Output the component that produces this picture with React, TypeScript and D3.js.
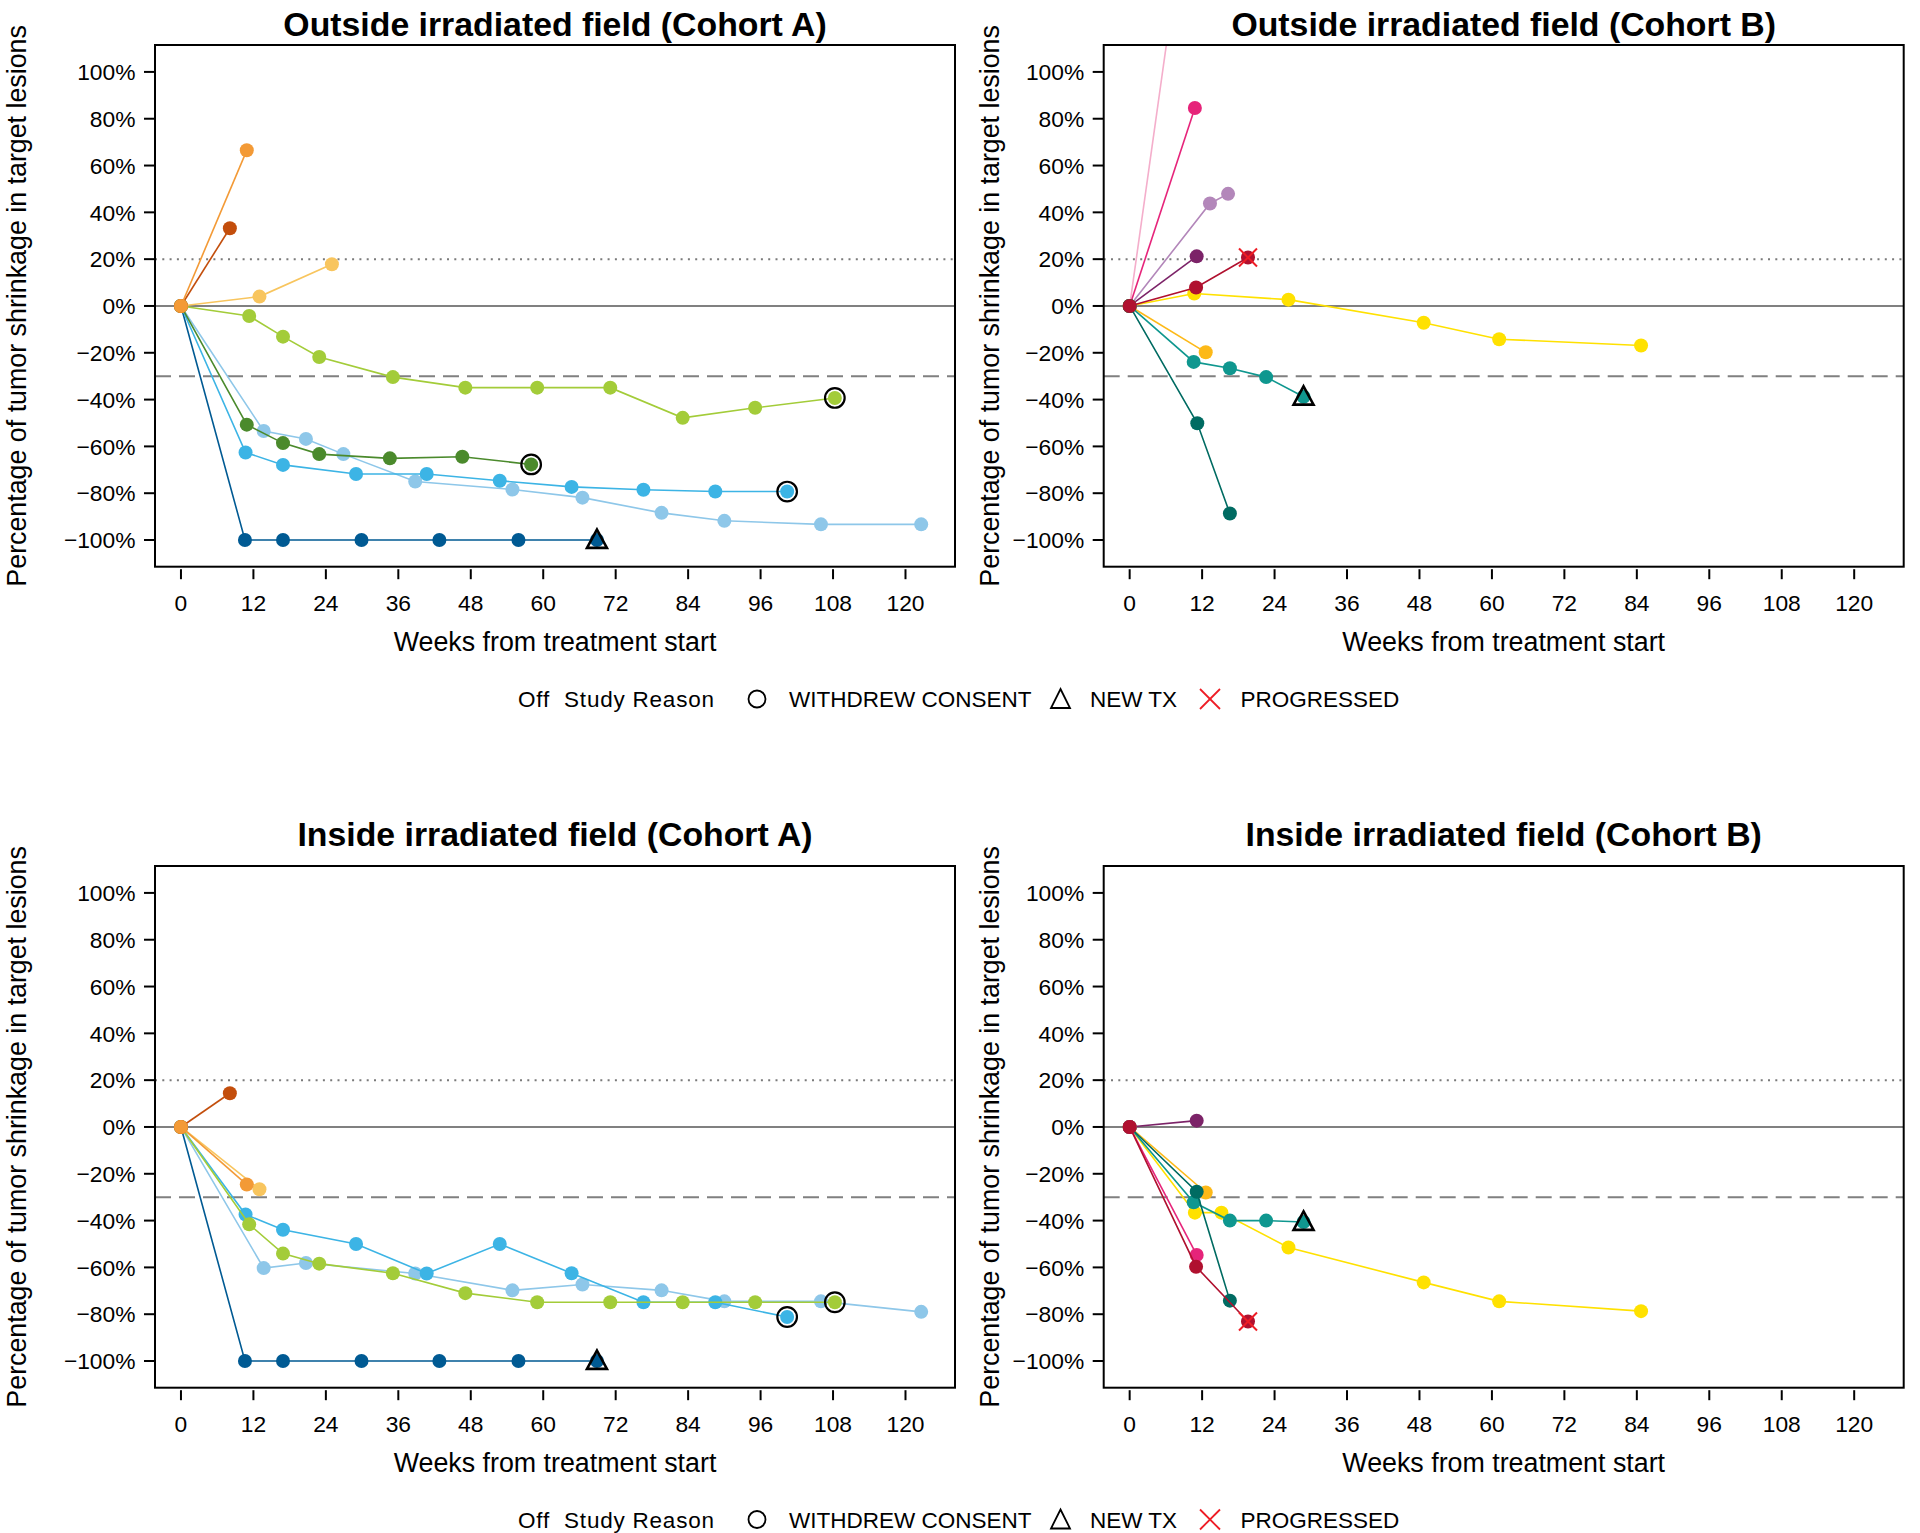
import React from 'react';
import * as d3 from 'd3';

// ---------- data ----------
const weekTicks = [0, 12, 24, 36, 48, 60, 72, 84, 96, 108, 120];
const pctTicks = [100, 80, 60, 40, 20, 0, -20, -40, -60, -80, -100];
const refProgression = 20;
const refResponse = -30;

const panelTitles = [
  'Outside irradiated field (Cohort A)',
  'Outside irradiated field (Cohort B)',
  'Inside irradiated field (Cohort A)',
  'Inside irradiated field (Cohort B)',
];
const xAxisTitle = 'Weeks from treatment start';
const yAxisTitle = 'Percentage of tumor shrinkage in target lesions';
const legendTitle = 'Off  Study Reason';
const offReasons = ['WITHDREW CONSENT', 'NEW TX', 'PROGRESSED'];

type Series = { id: string; weeks: number[]; pct: number[]; off?: string };

const outsideA: Series[] = [
  { id: 'A8', weeks: [0, 10.6, 16.9, 29.9, 42.8, 55.9, 68.9], pct: [0, -100, -100, -100, -100, -100, -100], off: 'NEW TX' },
  { id: 'A6', weeks: [0, 13.7, 20.7, 26.9, 38.8, 54.9, 66.5, 79.6, 90.0, 106.0, 122.6], pct: [0, -53.4, -56.8, -63.3, -75.0, -78.4, -81.9, -88.4, -91.8, -93.3, -93.3] },
  { id: 'A7', weeks: [0, 10.7, 16.9, 29.0, 40.7, 52.8, 64.7, 76.6, 88.5, 100.4], pct: [0, -62.6, -67.9, -71.8, -71.8, -74.7, -77.3, -78.5, -79.3, -79.3], off: 'WITHDREW CONSENT' },
  { id: 'A5', weeks: [0, 10.9, 16.9, 22.9, 34.6, 46.6, 58.0], pct: [0, -50.7, -58.6, -63.3, -65.1, -64.4, -67.7], off: 'WITHDREW CONSENT' },
  { id: 'A4', weeks: [0, 11.3, 16.9, 22.9, 35.1, 47.1, 59.0, 71.1, 83.1, 95.1, 108.3], pct: [0, -4.3, -13.1, -21.8, -30.4, -34.9, -34.9, -34.9, -47.8, -43.5, -39.3], off: 'WITHDREW CONSENT' },
  { id: 'A3', weeks: [0, 13.0, 25.0], pct: [0, 4.0, 17.8] },
  { id: 'A2', weeks: [0, 8.1], pct: [0, 33.2] },
  { id: 'A1', weeks: [0, 10.9], pct: [0, 66.5] },
];

const outsideB: Series[] = [
  { id: 'B1', weeks: [0, 11.0], pct: [0, 202] },
  { id: 'B2', weeks: [0, 10.8], pct: [0, 84.6] },
  { id: 'B3', weeks: [0, 13.3, 16.3], pct: [0, 43.8, 47.9] },
  { id: 'B4', weeks: [0, 11.1], pct: [0, 21.2] },
  { id: 'B6', weeks: [0, 10.7, 26.3, 48.7, 61.2, 84.7], pct: [0, 5.3, 2.7, -7.2, -14.2, -16.9] },
  { id: 'B7', weeks: [0, 12.6], pct: [0, -19.8] },
  { id: 'B8', weeks: [0, 10.6, 16.6, 22.6, 28.8], pct: [0, -23.9, -26.6, -30.4, -38.8], off: 'NEW TX' },
  { id: 'B9', weeks: [0, 11.2, 16.6], pct: [0, -50.1, -88.7] },
  { id: 'B5', weeks: [0, 11.0, 19.6], pct: [0, 7.9, 20.7], off: 'PROGRESSED' },
];

const insideA: Series[] = [
  { id: 'A8', weeks: [0, 10.6, 16.9, 29.9, 42.8, 55.9, 68.9], pct: [0, -100, -100, -100, -100, -100, -100], off: 'NEW TX' },
  { id: 'A6', weeks: [0, 13.7, 20.7, 38.8, 54.9, 66.5, 79.6, 90.0, 106.0, 122.6], pct: [0, -60.3, -58.1, -62.6, -69.8, -67.3, -69.8, -74.5, -74.5, -79.0] },
  { id: 'A7', weeks: [0, 10.7, 16.9, 29.0, 40.7, 52.8, 64.7, 76.6, 88.5, 100.4], pct: [0, -37.4, -43.9, -50.0, -62.6, -50.0, -62.5, -74.9, -74.9, -81.2], off: 'WITHDREW CONSENT' },
  { id: 'A4', weeks: [0, 11.3, 16.9, 22.9, 35.1, 47.1, 59.0, 71.1, 83.1, 95.1, 108.3], pct: [0, -41.6, -54.1, -58.4, -62.5, -71.0, -74.9, -74.9, -74.9, -74.9, -74.9], off: 'WITHDREW CONSENT' },
  { id: 'A3', weeks: [0, 13.0], pct: [0, -26.6] },
  { id: 'A2', weeks: [0, 8.1], pct: [0, 14.4] },
  { id: 'A1', weeks: [0, 10.9], pct: [0, -24.6] },
];

const insideB: Series[] = [
  { id: 'B4', weeks: [0, 11.1], pct: [0, 2.7] },
  { id: 'B6', weeks: [0, 10.8, 15.2, 26.3, 48.7, 61.2, 84.7], pct: [0, -36.6, -36.6, -51.5, -66.4, -74.5, -78.7] },
  { id: 'B7', weeks: [0, 12.6], pct: [0, -28.0] },
  { id: 'B8', weeks: [0, 10.6, 16.6, 22.6, 28.8], pct: [0, -32.2, -40.0, -40.0, -40.6], off: 'NEW TX' },
  { id: 'B9', weeks: [0, 11.1, 16.6], pct: [0, -27.7, -74.2] },
  { id: 'B2', weeks: [0, 11.1], pct: [0, -54.7] },
  { id: 'B5', weeks: [0, 11.0, 19.6], pct: [0, -59.7, -83.1], off: 'PROGRESSED' },
];

// ---------- styles ----------
const patientColors: Record<string, string> = {
  A1: '#F39A36', A2: '#C34E0C', A3: '#F8C55E', A4: '#A3CC39',
  A5: '#4B8A2C', A6: '#8EC7E9', A7: '#3CB4E5', A8: '#005A93',
  B1: '#F4AECB', B2: '#E6247A', B3: '#B387BA', B4: '#7C2368',
  B5: '#B0112F', B6: '#FFE100', B7: '#FDB918', B8: '#0F978F', B9: '#006B62',
};

const FONT = '"Liberation Sans", Arial, Helvetica, sans-serif';
const W = 800;
const H = 521.7;
const xDomain = [-4.3, 128.2];
const yDomain = [-111.4, 111.5];

type PanelProps = {
  idx: number;
  x0: number;
  y0: number;
  title: string;
  titleY: number;
  ylabX: number;
  series: Series[];
};

function Marker({ kind, x, y }: { kind?: string; x: number; y: number }) {
  if (kind === 'WITHDREW CONSENT') {
    return <circle cx={x} cy={y} r={9.8} fill="none" stroke="#000" strokeWidth={2.2} />;
  }
  if (kind === 'NEW TX') {
    const s = 10.5;
    const p = `M${x},${y - s} L${x + s * 0.95},${y + s * 0.75} L${x - s * 0.95},${y + s * 0.75} Z`;
    return <path d={p} fill="none" stroke="#000" strokeWidth={2.6} strokeLinejoin="miter" />;
  }
  if (kind === 'PROGRESSED') {
    const s = 9;
    return (
      <g stroke="#EE1C25" strokeWidth={2}>
        <line x1={x - s} y1={y - s} x2={x + s} y2={y + s} />
        <line x1={x - s} y1={y + s} x2={x + s} y2={y - s} />
      </g>
    );
  }
  return null;
}

function Panel({ idx, x0, y0, title, titleY, ylabX, series }: PanelProps) {
  const x = d3.scaleLinear().domain(xDomain).range([x0, x0 + W]);
  const y = d3.scaleLinear().domain(yDomain).range([y0 + H, y0]);
  const line = d3
    .line<[number, number]>()
    .x((d) => x(d[0]))
    .y((d) => y(d[1]));
  const clipId = `clip${idx}`;
  const bottom = y0 + H;
  return (
    <g>
      <defs>
        <clipPath id={clipId}>
          <rect x={x0} y={y0} width={W} height={H} />
        </clipPath>
      </defs>
      <text x={x0 + W / 2} y={titleY} textAnchor="middle" fontFamily={FONT} fontWeight="bold" fontSize={33.8}>
        {title}
      </text>
      {/* reference lines */}
      <g clipPath={`url(#${clipId})`}>
        <line x1={x0} x2={x0 + W} y1={y(refProgression)} y2={y(refProgression)} stroke="#7a7a7a" strokeWidth={2} strokeDasharray="2,5.3" />
        <line x1={x0} x2={x0 + W} y1={y(0)} y2={y(0)} stroke="#808080" strokeWidth={2} />
        <line x1={x0} x2={x0 + W} y1={y(refResponse)} y2={y(refResponse)} stroke="#808080" strokeWidth={2} strokeDasharray="16,8" />
        {series.map((s) => {
          const pts = s.weeks.map((w, i) => [w, s.pct[i]] as [number, number]);
          const c = patientColors[s.id];
          const last = pts[pts.length - 1];
          return (
            <g key={s.id}>
              <path d={line(pts) || ''} fill="none" stroke={c} strokeWidth={1.6} />
              {pts.map((p, i) => (
                <circle key={i} cx={x(p[0])} cy={y(p[1])} r={7} fill={c} />
              ))}
              <Marker kind={s.off} x={x(last[0])} y={y(last[1])} />
            </g>
          );
        })}
      </g>
      {/* box */}
      <rect x={x0} y={y0} width={W} height={H} fill="none" stroke="#000" strokeWidth={2} />
      {/* y axis */}
      {pctTicks.map((t) => (
        <g key={t}>
          <line x1={x0 - 11} x2={x0} y1={y(t)} y2={y(t)} stroke="#000" strokeWidth={2} />
          <text x={x0 - 19.5} y={y(t)} dy="0.36em" textAnchor="end" fontFamily={FONT} fontSize={22.8}>
            {t < 0 ? `\u2212${Math.abs(t)}%` : `${t}%`}
          </text>
        </g>
      ))}
      {/* x axis */}
      {weekTicks.map((t) => (
        <g key={t}>
          <line x1={x(t)} x2={x(t)} y1={bottom + 2.5} y2={bottom + 12.5} stroke="#000" strokeWidth={2} />
          <text x={x(t)} y={bottom + 44.3} textAnchor="middle" fontFamily={FONT} fontSize={22.8}>
            {t}
          </text>
        </g>
      ))}
      <text x={x0 + W / 2} y={bottom + 84.5} textAnchor="middle" fontFamily={FONT} fontSize={26.8}>
        {xAxisTitle}
      </text>
      <text
        transform={`translate(${ylabX},${y0 + H / 2}) rotate(-90)`}
        textAnchor="middle"
        fontFamily={FONT}
        fontSize={26.8}
      >
        {yAxisTitle}
      </text>
    </g>
  );
}

function Legend({ yc }: { yc: number }) {
  return (
    <g fontFamily={FONT} fontSize={22.5}>
      <text x={518} y={yc} dy="0.36em" textLength={196} lengthAdjust="spacing" style={{ whiteSpace: 'pre' }}>{legendTitle}</text>
      <circle cx={757} cy={yc} r={8.5} fill="none" stroke="#000" strokeWidth={1.8} />
      <text x={789} y={yc} dy="0.36em">{offReasons[0]}</text>
      <path d={`M1060.5,${yc - 10} L1070,${yc + 9} L1051,${yc + 9} Z`} fill="none" stroke="#000" strokeWidth={1.8} />
      <text x={1090} y={yc} dy="0.36em">{offReasons[1]}</text>
      <g stroke="#EE1C25" strokeWidth={1.8}>
        <line x1={1200} y1={yc - 10} x2={1220} y2={yc + 10} />
        <line x1={1200} y1={yc + 10} x2={1220} y2={yc - 10} />
      </g>
      <text x={1240.5} y={yc} dy="0.36em">{offReasons[2]}</text>
    </g>
  );
}

export default function App() {
  return (
    <svg
      width={1920}
      height={1533}
      viewBox="0 0 1920 1533"
      style={{ position: 'absolute', left: 0, top: 0, display: 'block', background: '#fff' }}
    >
      <rect x={0} y={0} width={1920} height={1533} fill="#fff" />
      <Panel idx={0} x0={155} y0={45} title={panelTitles[0]} titleY={36} ylabX={26} series={outsideA} />
      <Panel idx={1} x0={1103.7} y0={45} title={panelTitles[1]} titleY={36} ylabX={999} series={outsideB} />
      <Panel idx={2} x0={155} y0={866} title={panelTitles[2]} titleY={846} ylabX={26} series={insideA} />
      <Panel idx={3} x0={1103.7} y0={866} title={panelTitles[3]} titleY={846} ylabX={999} series={insideB} />
      <Legend yc={699} />
      <Legend yc={1519.5} />
    </svg>
  );
}
